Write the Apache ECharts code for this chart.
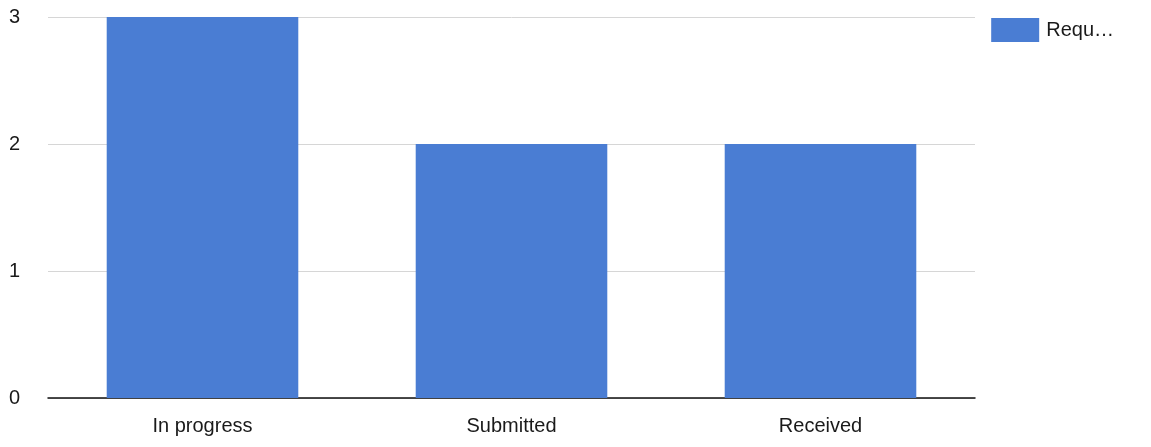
<!DOCTYPE html>
<html><head><meta charset="utf-8">
<script src="https://cdn.jsdelivr.net/npm/echarts@6/dist/echarts.min.js"></script>
<style>html,body{margin:0;padding:0;background:#fff}#c{width:1151px;height:447px}</style>
</head><body><div id="c"></div>
<script>
const categories = ['In progress', 'Submitted', 'Received'];
const values = [3, 2, 2];
const seriesName = 'Requ…';
const chart = echarts.init(document.getElementById('c'));
chart.setOption({
  animation: false,
  grid: { left: 48, right: 176, top: 17, bottom: 49 },
  legend: {
    right: 32, top: 13, itemWidth: 48, itemHeight: 24, icon: 'rect', itemGap: 6,
    textStyle: { fontFamily: 'Liberation Sans, Arial', fontSize: 20, color: '#1a1a1a', padding: [0, 0, 0, 2] },
    data: [seriesName]
  },
  xAxis: {
    type: 'category', data: categories,
    axisLine: { lineStyle: { color: '#111', width: 1.5 } },
    axisTick: { show: false },
    axisLabel: { fontFamily: 'Liberation Sans, Arial', fontSize: 20, color: '#1a1a1a', margin: 18 }
  },
  yAxis: {
    type: 'value', min: 0, max: 3, interval: 1,
    axisLabel: { fontFamily: 'Liberation Sans, Arial', fontSize: 20, color: '#1a1a1a', margin: 39, align: 'left' },
    splitLine: { lineStyle: { color: '#d6d6d6' } },
    axisLine: { show: false }, axisTick: { show: false }
  },
  series: [{
    name: seriesName, type: 'bar', data: values, barWidth: '62%',
    itemStyle: { color: '#4a7dd3' }
  }]
});
</script></body></html>
